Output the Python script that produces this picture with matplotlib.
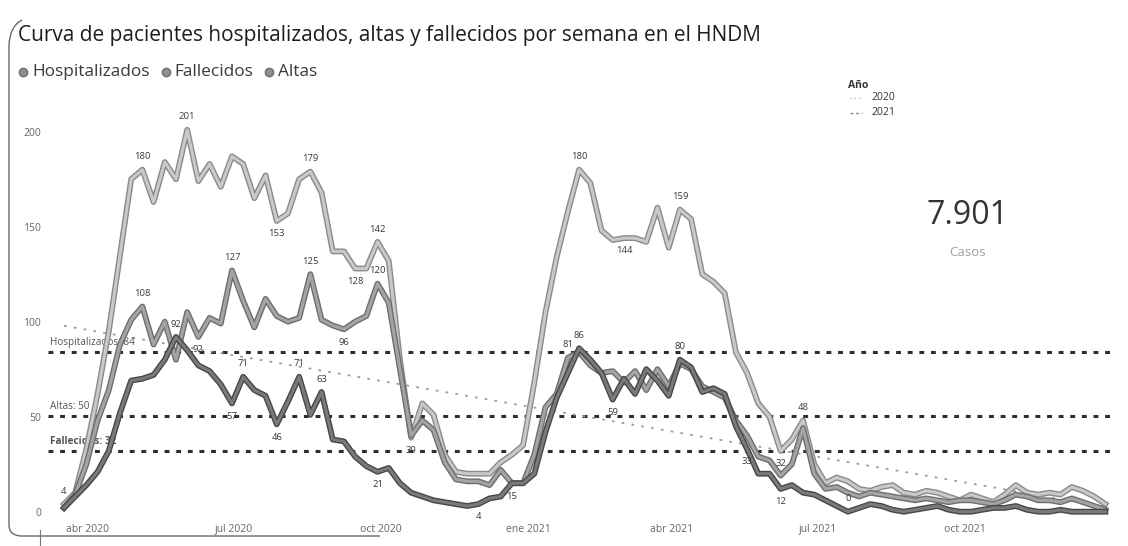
import matplotlib
matplotlib.use("Agg")
import matplotlib.patheffects as pe
import matplotlib.pyplot as plt
import numpy as np
import pandas as pd
from matplotlib.lines import Line2D
from matplotlib.patches import PathPatch
from matplotlib.path import Path

plt.rcParams["font.family"] = ["Open Sans", "DejaVu Sans"]

# weekly series
weeks = pd.date_range("2020-03-17", periods=94, freq="7D")

hospitalizados = [
    4, 10, 33, 62, 95, 135, 175, 180, 163, 184, 175, 201, 174, 183, 171, 187,
    183, 165, 177, 153, 157, 175, 179, 168, 137, 137, 128, 128, 142, 132, 80, 39,
    57, 51, 30, 21, 20, 20, 20, 26, 30, 35, 68, 105, 134, 158, 180, 173,
    148, 143, 144, 144, 142, 160, 139, 159, 154, 125, 121, 115, 84, 73, 57, 50,
    32, 38, 48, 25, 15, 18, 16, 12, 11, 13, 14, 10, 9, 11, 10, 8,
    6, 9, 7, 5, 9, 14, 10, 9, 10, 9, 13, 11, 8, 4,
]
altas = [
    2, 9, 25, 48, 64, 88, 101, 108, 88, 100, 80, 105, 92, 102, 99, 127,
    111, 97, 112, 103, 100, 102, 125, 101, 98, 96, 100, 103, 120, 110, 75, 40,
    48, 43, 26, 17, 16, 16, 14, 22, 15, 15, 30, 55, 62, 81, 84, 77,
    73, 74, 68, 74, 64, 75, 66, 78, 75, 66, 63, 60, 48, 40, 29, 27,
    19, 25, 44, 20, 12, 13, 10, 8, 10, 9, 8, 7, 6, 7, 6, 5,
    6, 6, 5, 4, 6, 9, 8, 6, 6, 5, 7, 5, 3, 1,
]
fallecidos = [
    2, 8, 14, 21, 32, 52, 69, 70, 72, 80, 92, 85, 77, 74, 67, 57,
    71, 64, 61, 46, 58, 71, 51, 63, 38, 37, 29, 24, 21, 23, 15, 10,
    8, 6, 5, 4, 3, 4, 7, 8, 15, 15, 20, 42, 60, 73, 86, 80,
    73, 59, 70, 62, 75, 69, 61, 80, 76, 63, 65, 62, 45, 33, 20, 20,
    12, 14, 10, 9, 6, 3, 0, 2, 4, 3, 1, 0, 1, 2, 3, 1,
    0, 0, 1, 2, 2, 3, 1, 0, 0, 1, 0, 0, 0, 0,
]

tick_dates = ["2020-04-01", "2020-07-01", "2020-10-01", "2021-01-01",
              "2021-04-01", "2021-07-01", "2021-10-01"]
tick_labels = ["abr 2020", "jul 2020", "oct 2020", "ene 2021",
               "abr 2021", "jul 2021", "oct 2021"]

# which points carry a data label: (week index, above/below)
hosp_marks = [(0, 1), (7, 1), (11, 1), (19, -1), (22, 1), (26, -1), (28, 1),
              (31, -1), (46, 1), (50, -1), (55, 1), (64, -1), (66, 1)]
altas_marks = [(7, 1), (12, -1), (15, 1), (22, 1), (25, -1), (28, 1), (45, 1)]
fall_marks = [(10, 1), (15, -1), (16, 1), (19, -1), (21, 1), (23, 1), (28, -1),
              (37, -1), (40, -1), (46, 1), (49, -1), (55, 1), (61, -1), (64, -1),
              (70, 1)]

total_casos = "7.901"

W, H = 1128, 546
fig = plt.figure(figsize=(W / 100, H / 100), dpi=100)


def fx(x):
    return x / W


def fy(y):
    return 1 - y / H


ax = fig.add_axes([fx(48), fy(517.4), fx(1115) - fx(48), fy(108.9) - fy(517.4)])
ax.set_xlim(weeks[0] - pd.Timedelta(days=10), weeks[-1] + pd.Timedelta(days=6))
ax.set_ylim(-3, 212)

series = [
    ("Hospitalizados", hospitalizados, "#c9c9c9", "#8a8a8a", hosp_marks),
    ("Altas", altas, "#a4a4a4", "#6e6e6e", altas_marks),
    ("Fallecidos", fallecidos, "#7a7a7a", "#474747", fall_marks),
]

# average reference lines
for name, vals, inner, outer, _ in series:
    avg = np.mean(vals)
    ax.axhline(avg, color="#2e2e2e", lw=2.2, dashes=(1.6, 2.2), zorder=1)
    weight = "bold" if name == "Fallecidos" else "normal"
    ax.annotate(f"{name}: {avg:.0f}", xy=(0.002, avg), xycoords=("axes fraction", "data"),
                xytext=(0, 3), textcoords="offset points", fontsize=7.2,
                color="#555555", fontweight=weight, va="bottom", ha="left")

# trend line of the discharge series
k = np.arange(len(altas))
slope, inter = np.polyfit(k, altas, 1)
ax.plot(weeks, inter + slope * k, color="#9c9c9c", lw=1.3, dashes=(1.5, 4), zorder=1.5)

for name, vals, inner, outer, marks in series:
    ax.plot(weeks, vals, color=inner, lw=2.2, solid_joinstyle="round", zorder=3,
            path_effects=[pe.Stroke(linewidth=4.2, foreground=outer), pe.Normal()])
    for i, side in marks:
        ax.annotate(str(vals[i]), xy=(weeks[i], vals[i]), xytext=(0, 6 * side),
                    textcoords="offset points", ha="center",
                    va="bottom" if side > 0 else "top", fontsize=6.8, color="#3a3a3a",
                    zorder=5)

ax.set_xticks([pd.Timestamp(d) for d in tick_dates])
ax.set_xticklabels(tick_labels)
ax.set_yticks([0, 50, 100, 150, 200])
ax.tick_params(length=0, labelsize=7.5, colors="#666666")
ax.tick_params(axis="y", pad=5)
ax.tick_params(axis="x", pad=5)
for s in ax.spines.values():
    s.set_visible(False)

# title and series legend
fig.text(fx(18), fy(35), "Curva de pacientes hospitalizados, altas y fallecidos por semana en el HNDM",
         fontsize=15, color="#1e1e1e", va="center", ha="left")
lx = 18
for name, _, inner, outer, _ in [series[0], series[2], series[1]]:
    fig.add_artist(Line2D([fx(lx + 5)], [fy(72)], marker="o", ms=6, color="#8f8f8f",
                          markeredgecolor="#6f6f6f", transform=fig.transFigure))
    t = fig.text(fx(lx + 14), fy(72), name, fontsize=12.4, color="#3a3a3a", va="center", ha="left")
    fig.canvas.draw()
    bb = t.get_window_extent()
    lx = bb.x1 + 11

# year legend
fig.text(fx(848), fy(85), "Año", fontsize=7.5, fontweight="bold", color="#333333", va="center")
fig.add_artist(Line2D([fx(850), fx(862)], [fy(98), fy(98)], color="#bbbbbb", lw=1,
                      dashes=(1, 2), transform=fig.transFigure))
fig.add_artist(Line2D([fx(850), fx(862)], [fy(113), fy(113)], color="#888888", lw=1,
                      dashes=(2, 2), transform=fig.transFigure))
fig.text(fx(871), fy(98), "2020", fontsize=7.5, color="#333333", va="center")
fig.text(fx(871), fy(113), "2021", fontsize=7.5, color="#333333", va="center")

# card with total
fig.text(fx(968), fy(216), total_casos, fontsize=23, color="#333333", ha="center", va="center")
fig.text(fx(968), fy(253), "Casos", fontsize=9.5, color="#a0a0a0", ha="center", va="center")

# scanned card border (left / bottom edge)
verts = [(fx(22), fy(20)), (fx(10), fy(26)), (fx(9), fy(45)), (fx(9), fy(525)),
         (fx(9), fy(536)), (fx(22), fy(536)), (fx(380), fy(536))]
codes = [Path.MOVETO, Path.CURVE3, Path.CURVE3, Path.LINETO, Path.CURVE3, Path.CURVE3, Path.LINETO]
fig.add_artist(PathPatch(Path(verts, codes), fill=False, ec="#6a6a6a", lw=1.0,
                         transform=fig.transFigure))
fig.add_artist(Line2D([fx(40), fx(40)], [fy(530), fy(546)], color="#777777", lw=0.8,
                      transform=fig.transFigure))

fig.savefig("out.png", dpi=100)
